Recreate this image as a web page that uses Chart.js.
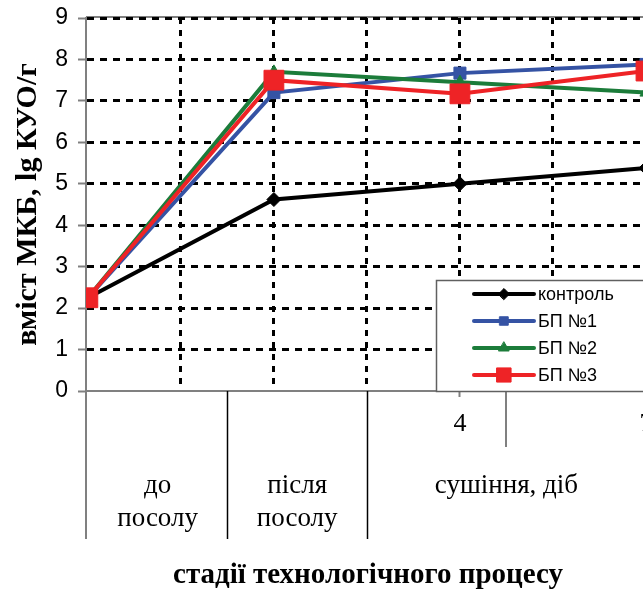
<!DOCTYPE html>
<html>
<head>
<meta charset="utf-8">
<script src="https://cdn.jsdelivr.net/npm/chart.js@4"></script>
<style>
  html, body { margin: 0; padding: 0; background: #fff; overflow: hidden; }
  #wrap { width: 643px; height: 591px; overflow: hidden; }
</style>
</head>
<body>
<div id="wrap"><canvas id="chart" width="760" height="591"></canvas></div>
<script>
const seriesNames = ['контроль', 'БП №1', 'БП №2', 'БП №3']
const xPositions = [0, 2, 4, 6]
const control = [2.25, 4.62, 5.0, 5.38]
const bp1 = [2.25, 7.2, 7.67, 7.88]
const bp2 = [2.25, 7.7, 7.45, 7.2]
const bp3 = [2.25, 7.5, 7.17, 7.72]
const dayLabels = { 4: '4', 6: '7' }
const stageNames = [['до', 'посолу'], ['після', 'посолу'], ['сушіння, діб']]
const stageEdges = [0, 1.5, 3, 6]
const daySplit = 4.5
const yTicks = [0, 1, 2, 3, 4, 5, 6, 7, 8, 9]

const serif = '"Liberation Serif", "Times New Roman", serif'
const sans = '"Liberation Sans", Arial, sans-serif'

function pts (values) {
  return values.map((v, i) => ({ x: xPositions[i], y: v }))
}

const styles = [
  { color: '#000000', pointStyle: 'rectRot', radius: 7, legendRadius: 5.5 },
  { color: '#3553a4', pointStyle: 'rect', radius: 8.5, legendRadius: 6 },
  { color: '#1c7c3a', pointStyle: 'triangle', radius: 7, legendRadius: 6 },
  { color: '#ee2326', pointStyle: 'rect', radius: 14, legendRadius: 10 }
]

const extras = {
  id: 'extras',
  beforeDraw (chart) {
    const { ctx, chartArea } = chart
    ctx.save()
    ctx.strokeStyle = '#808080'
    ctx.lineWidth = 2
    ctx.beginPath()
    ctx.moveTo(chartArea.left, chartArea.top - 1)
    ctx.lineTo(chartArea.right, chartArea.top - 1)
    ctx.stroke()
    ctx.restore()
  },
  afterDraw (chart) {
    const { ctx, chartArea } = chart
    const xs = chart.scales.x
    const bottom = chartArea.bottom
    ctx.save()

    // stage table under the axis
    stageEdges.slice(0, -1).forEach((e, i) => {
      const px = i === 0 ? chartArea.left : Math.round(xs.getPixelForValue(e)) + 0.5
      ctx.strokeStyle = i === 0 ? '#808080' : '#000'
      ctx.lineWidth = i === 0 ? 2 : 1.5
      ctx.beginPath()
      ctx.moveTo(px, bottom)
      ctx.lineTo(px, 539)
      ctx.stroke()
    })
    const sx = Math.round(xs.getPixelForValue(daySplit))
    ctx.strokeStyle = '#808080'
    ctx.lineWidth = 2
    ctx.beginPath()
    ctx.moveTo(sx, bottom)
    ctx.lineTo(sx, 447)
    ctx.stroke()

    ctx.fillStyle = '#000'
    ctx.font = '27px ' + serif
    ctx.textAlign = 'center'
    ctx.textBaseline = 'middle'
    stageNames.forEach((lines, i) => {
      const cx = xs.getPixelForValue((stageEdges[i] + stageEdges[i + 1]) / 2)
      lines.forEach((t, j) => ctx.fillText(t, cx, 486 + j * 33))
    })

    ctx.font = 'bold 29px ' + serif
    ctx.fillText('стадії технологічного процесу', 368, 576)

    // legend
    const lx = 436
    const ly = 280
    ctx.fillStyle = '#fff'
    ctx.fillRect(lx, ly, 400, bottom - ly)
    ctx.strokeStyle = '#606060'
    ctx.lineWidth = 1.5
    ctx.strokeRect(lx + 0.5, ly + 0.5, 400, bottom - ly)
    chart.data.datasets.forEach((ds, i) => {
      const y = 294 + i * 27
      const st = styles[i]
      ctx.strokeStyle = st.color
      ctx.lineWidth = 4
      ctx.lineCap = 'round'
      ctx.beginPath()
      ctx.moveTo(474, y)
      ctx.lineTo(534, y)
      ctx.stroke()
      ctx.fillStyle = st.color
      ctx.lineWidth = 1
      Chart.helpers.drawPoint(ctx, {
        pointStyle: st.pointStyle, radius: st.legendRadius, rotation: 0, borderWidth: 1
      }, 504, y)
      ctx.fillStyle = '#000'
      ctx.font = '18px ' + sans
      ctx.textAlign = 'left'
      ctx.fillText(ds.label, 538, y + 1)
    })
    ctx.restore()
  }
}

function build () {
  const all = [control, bp1, bp2, bp3]
  const datasets = all.map((vals, i) => ({
    label: seriesNames[i],
    data: pts(vals),
    borderColor: styles[i].color,
    backgroundColor: styles[i].color,
    pointBackgroundColor: styles[i].color,
    pointBorderColor: styles[i].color,
    pointStyle: styles[i].pointStyle,
    pointRadius: styles[i].radius,
    pointBorderWidth: 1,
    borderWidth: 4,
    tension: 0,
    order: 3 - i
  }))

  return new Chart(document.getElementById('chart').getContext('2d'), {
    type: 'line',
    data: { datasets },
    options: {
      responsive: false,
      animation: false,
      devicePixelRatio: 1,
      layout: { padding: { top: 18, right: 21, bottom: 0, left: 0 } },
      plugins: {
        legend: { display: false },
        tooltip: { enabled: false }
      },
      scales: {
        x: {
          type: 'linear',
          min: -0.02,
          max: 7,
          afterFit: s => { s.height = 200 },
          afterBuildTicks: s => {
            s.ticks = [1, 2, 3, 4, 5, 6, 7].map(v => ({ value: v }))
          },
          ticks: {
            autoSkip: false,
            maxRotation: 0,
            color: '#000',
            padding: 12,
            font: { family: serif, size: 26 },
            callback: v => dayLabels[v] || ''
          },
          grid: {
            color: '#000',
            lineWidth: 3,
            drawTicks: true,
            tickLength: 6,
            tickWidth: 2,
            tickColor: c => (dayLabels[c.tick && c.tick.value] ? '#808080' : 'rgba(0,0,0,0)')
          },
          border: { display: true, color: '#808080', width: 2, dash: [6, 6] }
        },
        y: {
          min: 0,
          max: 9,
          afterFit: s => {
            s.width = 86
            s.paddingTop = 0
            s.paddingBottom = 0
          },
          afterBuildTicks: s => { s.ticks = yTicks.map(v => ({ value: v })) },
          ticks: {
            color: '#000',
            padding: 10,
            font: { family: sans, size: 23 }
          },
          grid: {
            color: c => (c.tick && c.tick.value === 0 ? 'rgba(0,0,0,0)' : '#000'),
            lineWidth: 3,
            tickLength: 8,
            tickWidth: 2,
            tickColor: '#808080'
          },
          border: { display: true, color: '#808080', width: 2, dash: [7, 6] },
          title: {
            display: true,
            text: 'вміст МКБ, lg КУО/г',
            color: '#000',
            font: { family: serif, size: 30, weight: 'bold' },
            padding: { top: 10, bottom: 0 }
          }
        }
      }
    },
    plugins: [extras]
  })
}

build()
</script>
</body>
</html>
